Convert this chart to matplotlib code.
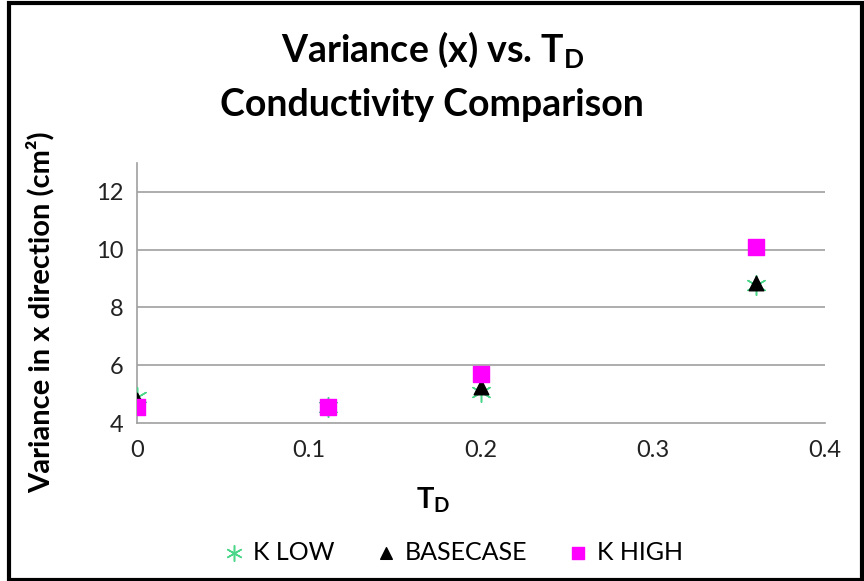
import matplotlib
matplotlib.use('Agg')
from matplotlib import pyplot as plt
from matplotlib.patches import Rectangle

plt.rcParams['font.family'] = ['Lato', 'DejaVu Sans']

# data
td = [0.0, 0.111, 0.2, 0.36]
k_low = [4.9, 4.55, 5.08, 8.76]
basecase = [4.8, 4.55, 5.24, 8.85]
k_high = [4.55, 4.55, 5.7, 10.1]

y_ticks = [4, 6, 8, 10, 12]
x_ticks = [0, 0.1, 0.2, 0.3, 0.4]

fig = plt.figure(figsize=(8.64, 5.81), dpi=100)
ax = fig.add_axes([137 / 864, 1 - 423 / 581, (825 - 137) / 864, (423 - 163) / 581])

grid_color = '#a0a0a0'
for y in y_ticks[1:]:
    ax.axhline(y, color=grid_color, lw=1.2, zorder=0)

ax.scatter(td, k_low, marker=(6, 2, 0), s=200, color='#4cd68a', lw=1.1,
           label='K LOW', zorder=3)
ax.scatter(td, basecase, marker='^', s=110, color='black', label='BASECASE',
           zorder=4)
ax.scatter(td, k_high, marker='s', s=130, color='#ff00ff', label='K HIGH',
           zorder=5)

ax.set_xlim(0, 0.4)
ax.set_ylim(4, 13)
ax.set_xticks(x_ticks)
ax.set_xticklabels(['0', '0.1', '0.2', '0.3', '0.4'])
ax.set_yticks(y_ticks)
ax.tick_params(length=0, labelsize=17, colors='#222222', pad=10)
ax.tick_params(axis='x', pad=12)
for side in ['top', 'right']:
    ax.spines[side].set_visible(False)
for side in ['left', 'bottom']:
    ax.spines[side].set_color(grid_color)
    ax.spines[side].set_linewidth(1.2)

fig.text(433 / 864, 1 - 500 / 581, r'T$_\mathregular{D}$', ha='center',
         va='center', fontsize=21, fontweight='bold')
fig.text(40 / 864, 1 - 312 / 581, 'Variance in x direction (cm²)', ha='center',
         va='center', rotation=90, fontsize=21, fontweight='bold')

fig.text(0.501, 1 - 50 / 581, r'Variance (x) vs. T$_\mathregular{D}$',
         ha='center', va='center', fontsize=27, fontweight='bold')
fig.text(0.5, 1 - 105 / 581, 'Conductivity Comparison', ha='center',
         va='center', fontsize=27, fontweight='bold')

fig.legend(loc='center', bbox_to_anchor=(0.52, 1 - 552 / 581), ncol=3,
           frameon=False, fontsize=18, handletextpad=0.0, columnspacing=1.3,
           markerscale=0.8, handlelength=1.5)

fig.patches.append(Rectangle((9 / 864, 1 / 581), 853 / 864, 577 / 581,
                             transform=fig.transFigure, fill=False,
                             edgecolor='black', lw=3))

fig.savefig('out.png', dpi=100)
